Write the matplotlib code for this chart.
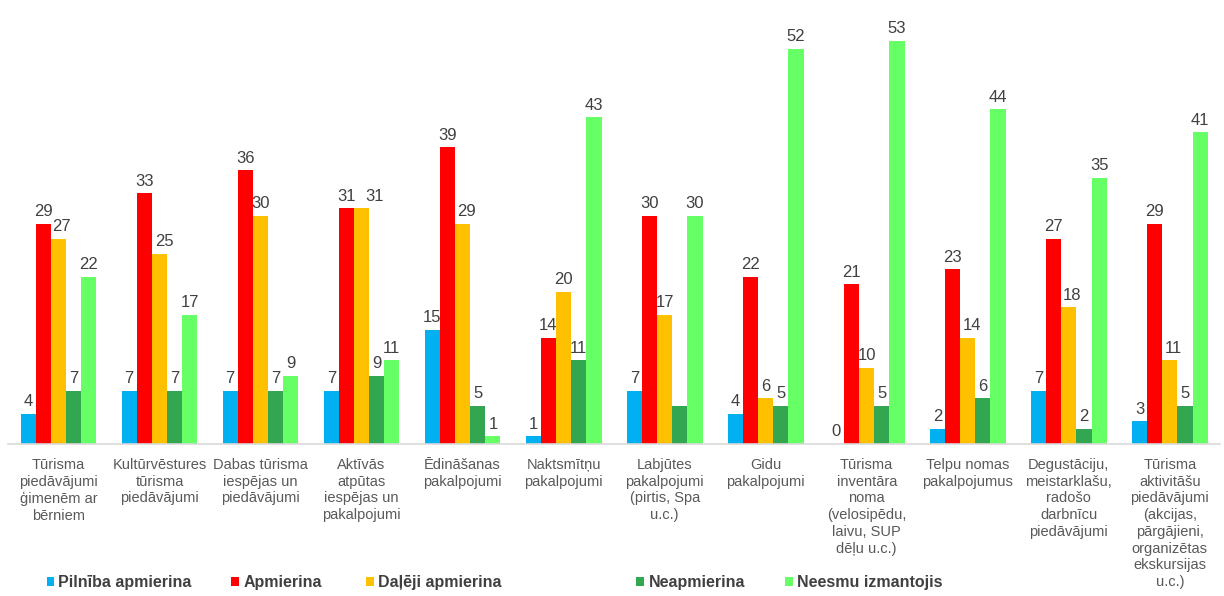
import matplotlib
matplotlib.use("Agg")
import matplotlib.pyplot as plt
import numpy as np
from matplotlib.patches import Patch

plt.rcParams['font.family'] = ['Liberation Sans', 'DejaVu Sans']

categories = [
    "Tūrisma\npiedāvājumi\nģimenēm ar\nbērniem",
    "Kultūrvēstures\ntūrisma\npiedāvājumi",
    "Dabas tūrisma\niespējas un\npiedāvājumi",
    "Aktīvās\natpūtas\niespējas un\npakalpojumi",
    "Ēdināšanas\npakalpojumi",
    "Naktsmītņu\npakalpojumi",
    "Labjūtes\npakalpojumi\n(pirtis, Spa\nu.c.)",
    "Gidu\npakalpojumi",
    "Tūrisma\ninventāra\nnoma\n(velosipēdu,\nlaivu, SUP\ndēļu u.c.)",
    "Telpu nomas\npakalpojumus",
    "Degustāciju,\nmeistarklašu,\nradošo\ndarbnīcu\npiedāvājumi",
    "Tūrisma\naktivitāšu\npiedāvājumi\n(akcijas,\npārgājieni,\norganizētas\nekskursijas\nu.c.)",
]

series_names = ["Pilnība apmierina", "Apmierina", "Daļēji apmierina",
                "Neapmierina", "Neesmu izmantojis"]
pilniba = [4, 7, 7, 7, 15, 1, 7, 4, 0, 2, 7, 3]
apmierina = [29, 33, 36, 31, 39, 14, 30, 22, 21, 23, 27, 29]
daleji = [27, 25, 30, 31, 29, 20, 17, 6, 10, 14, 18, 11]
neapmierina = [7, 7, 7, 9, 5, 11, 5, 5, 5, 6, 2, 5]
neesmu = [22, 17, 9, 11, 1, 43, 30, 52, 53, 44, 35, 41]
# (series index, category index) of labels missing in the original
hidden_labels = [(3, 6)]
# labels nudged sideways in the original, offset in bar-group units
label_shift = {(2, 0): 0.03, (2, 3): 0.13, (2, 4): 0.04, (2, 1): 0.05,
               (2, 9): 0.04, (2, 10): 0.03, (2, 11): 0.04}

colors = ["#00B0F0", "#FF0000", "#FFC000", "#33A652", "#66FF66"]

fig = plt.figure(figsize=(12.24, 5.96), dpi=100)
ax = fig.add_axes([0.0065, 0.255, 0.9905, 0.745])

x = np.arange(len(categories))
w = 0.15
all_series = [pilniba, apmierina, daleji, neapmierina, neesmu]
for i, vals in enumerate(all_series):
    pos = x + (i - 2) * w
    ax.bar(pos, vals, width=w, color=colors[i], label=series_names[i])
    for j, v in enumerate(vals):
        if (i, j) in hidden_labels:
            continue
        ax.text(pos[j] + label_shift.get((i, j), 0), v + 0.6, str(v),
                ha='center', va='bottom', fontsize=12, color='#404040')

ax.set_xlim(-0.5, len(categories) - 0.5)
ax.set_ylim(0, 58.4)
ax.set_xticks(x)
ax.set_xticklabels(categories, fontsize=10.5, color='#595959', linespacing=1.25)
ax.tick_params(axis='x', length=0, pad=10)
ax.set_yticks([])
for s in ['top', 'right', 'left']:
    ax.spines[s].set_visible(False)
ax.spines['bottom'].set_color('#D9D9D9')
ax.spines['bottom'].set_linewidth(1.2)

leg_x = [0.038, 0.189, 0.299, 0.520, 0.641]
for i, name in enumerate(series_names):
    h = Patch(facecolor=colors[i])
    fig.legend(handles=[h], labels=[name], loc='center left',
               bbox_to_anchor=(leg_x[i], 0.023), frameon=False,
               prop={'weight': 'bold', 'size': 11.5},
               handlelength=0.5, handleheight=0.5, handletextpad=0.25,
               labelcolor='#404040', borderaxespad=0, borderpad=0)

fig.savefig("out.png", dpi=100)
